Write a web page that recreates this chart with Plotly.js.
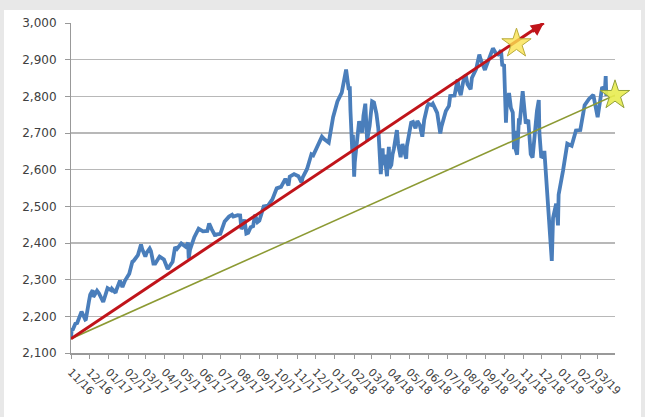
<!DOCTYPE html>
<html>
<head>
<meta charset="utf-8">
<script src="https://cdn.plot.ly/plotly-3.0.1.min.js"></script>
<style>
  html, body { margin: 0; padding: 0; background: #e8e8e8; }
  #frame { position: absolute; left: 4px; top: 10px; width: 637px; height: 407px; background: #ffffff; }
  #chart { position: absolute; left: 0; top: 0; width: 645px; height: 417px; }
</style>
</head>
<body>
<div id="frame"></div>
<div id="chart"></div>
<script>
// Index closes, Nov 2016 - Mar 2019
const dates = [
  '2016-11-08','2016-11-09','2016-11-11','2016-11-15','2016-11-18','2016-11-25','2016-12-01','2016-12-02',
  '2016-12-07','2016-12-09','2016-12-13','2016-12-14','2016-12-16','2016-12-20','2016-12-23','2016-12-30',
  '2017-01-06','2017-01-12','2017-01-13','2017-01-19','2017-01-20','2017-01-26','2017-01-30','2017-02-03',
  '2017-02-10','2017-02-15','2017-02-17','2017-02-24','2017-03-01','2017-03-03','2017-03-08','2017-03-10',
  '2017-03-15','2017-03-17','2017-03-21','2017-03-24','2017-03-31','2017-04-07','2017-04-13','2017-04-18',
  '2017-04-21','2017-04-25','2017-04-28','2017-05-05','2017-05-12','2017-05-16','2017-05-17','2017-05-19',
  '2017-05-26','2017-06-02','2017-06-09','2017-06-16','2017-06-19','2017-06-23','2017-06-29','2017-06-30',
  '2017-07-07','2017-07-14','2017-07-21','2017-07-26','2017-07-28','2017-08-04','2017-08-08','2017-08-10',
  '2017-08-11','2017-08-15','2017-08-17','2017-08-18','2017-08-21','2017-08-25','2017-08-29','2017-09-01',
  '2017-09-05','2017-09-08','2017-09-15','2017-09-22','2017-09-29','2017-10-06','2017-10-13','2017-10-20',
  '2017-10-25','2017-10-27','2017-11-03','2017-11-10','2017-11-15','2017-11-17','2017-11-24','2017-12-01',
  '2017-12-04','2017-12-08','2017-12-15','2017-12-18','2017-12-22','2017-12-29','2018-01-05','2018-01-12',
  '2018-01-19','2018-01-26','2018-01-30','2018-02-01','2018-02-02','2018-02-05','2018-02-06','2018-02-08',
  '2018-02-09','2018-02-14','2018-02-16','2018-02-21','2018-02-23','2018-02-26','2018-03-01','2018-03-02',
  '2018-03-05','2018-03-09','2018-03-12','2018-03-16','2018-03-19','2018-03-22','2018-03-23','2018-03-26',
  '2018-03-27','2018-03-29','2018-04-02','2018-04-03','2018-04-04','2018-04-05','2018-04-06','2018-04-09',
  '2018-04-11','2018-04-13','2018-04-18','2018-04-20','2018-04-24','2018-04-27','2018-05-02','2018-05-03',
  '2018-05-04','2018-05-11','2018-05-14','2018-05-18','2018-05-21','2018-05-25','2018-05-29','2018-06-01',
  '2018-06-06','2018-06-08','2018-06-13','2018-06-15','2018-06-22','2018-06-25','2018-06-27','2018-06-29',
  '2018-07-06','2018-07-11','2018-07-13','2018-07-20','2018-07-25','2018-07-27','2018-07-30','2018-08-03',
  '2018-08-07','2018-08-10','2018-08-15','2018-08-17','2018-08-24','2018-08-29','2018-08-31','2018-09-07',
  '2018-09-14','2018-09-20','2018-09-25','2018-09-28','2018-10-03','2018-10-05','2018-10-08','2018-10-10',
  '2018-10-11','2018-10-12','2018-10-16','2018-10-19','2018-10-22','2018-10-24','2018-10-25','2018-10-26',
  '2018-10-29','2018-11-01','2018-11-02','2018-11-07','2018-11-09','2018-11-12','2018-11-16','2018-11-20',
  '2018-11-23','2018-11-28','2018-11-30','2018-12-03','2018-12-04','2018-12-07','2018-12-10','2018-12-12',
  '2018-12-14','2018-12-17','2018-12-19','2018-12-21','2018-12-24','2018-12-26','2018-12-28','2018-12-31',
  '2019-01-03','2019-01-04','2019-01-11','2019-01-18','2019-01-25','2019-02-01','2019-02-08','2019-02-15',
  '2019-02-22','2019-03-01','2019-03-08','2019-03-15','2019-03-20','2019-03-21','2019-03-22'
];
const closes = [
  2139,2163,2164,2180,2182,2213,2191,2192,
  2241,2259,2271,2253,2258,2270,2263,2239,
  2277,2271,2275,2264,2271,2297,2280,2297,
  2316,2349,2351,2367,2396,2383,2363,2373,
  2385,2378,2344,2344,2363,2355,2329,2342,
  2349,2389,2384,2399,2390,2401,2357,2381,
  2416,2439,2432,2433,2453,2438,2419,2423,
  2425,2459,2472,2477,2472,2476,2475,2438,
  2441,2464,2430,2426,2428,2443,2446,2477,
  2457,2461,2500,2502,2519,2549,2553,2575,
  2557,2581,2588,2582,2565,2579,2602,2642,
  2639,2652,2675,2690,2683,2674,2743,2786,
  2810,2873,2822,2822,2762,2649,2695,2581,
  2620,2698,2732,2701,2747,2780,2678,2691,
  2720,2786,2783,2752,2712,2644,2588,2658,
  2613,2641,2582,2614,2644,2662,2604,2613,
  2642,2656,2708,2670,2634,2670,2636,2630,
  2663,2728,2730,2713,2733,2721,2690,2735,
  2772,2779,2776,2780,2755,2717,2699,2718,
  2760,2774,2801,2802,2846,2819,2803,2840,
  2858,2833,2819,2850,2875,2914,2902,2872,
  2905,2931,2916,2914,2925,2886,2884,2786,
  2728,2767,2809,2768,2756,2656,2706,2659,
  2641,2740,2723,2814,2781,2726,2736,2642,
  2633,2744,2760,2790,2700,2633,2637,2651,
  2600,2546,2507,2417,2351,2468,2486,2507,
  2448,2532,2596,2671,2665,2707,2708,2776,
  2793,2804,2743,2822,2825,2855,2801
];

// Trend lines: steep (red, arrow) and gentle (green)
const trendStart = { date: '2016-11-08', value: 2139 };
const steepEnd   = { date: '2018-12-11', value: 3000 };
const gentleEnd  = { date: '2019-04-05', value: 2803 };

// Star markers
const starDates  = ['2018-10-28', '2019-04-05'];
const starValues = [2944, 2803];

// Axis extent
const xRange = ['2016-11-08', '2019-04-05'];
const yRange = [2100, 3000];

const traces = [
  {
    x: dates, y: closes, type: 'scatter', mode: 'lines',
    line: { color: '#4a7ebb', width: 3.8 },
    hoverinfo: 'skip'
  },
  {
    x: [trendStart.date, gentleEnd.date], y: [trendStart.value, gentleEnd.value],
    type: 'scatter', mode: 'lines',
    line: { color: '#8c9a33', width: 1.6 },
    cliponaxis: false, hoverinfo: 'skip'
  },
  {
    x: [trendStart.date, steepEnd.date], y: [trendStart.value, steepEnd.value],
    type: 'scatter', mode: 'lines',
    line: { color: '#c0141a', width: 3 },
    cliponaxis: false, hoverinfo: 'skip'
  },
  {
    x: [starDates[0]], y: [starValues[0]], type: 'scatter', mode: 'markers',
    marker: { symbol: 'star', size: 22, color: 'rgba(250,226,80,0.8)', line: { color: '#b9ab3a', width: 1 } },
    cliponaxis: false, hoverinfo: 'skip'
  },
  {
    x: [starDates[1]], y: [starValues[1]], type: 'scatter', mode: 'markers',
    marker: { symbol: 'star', size: 22, color: 'rgba(232,236,80,0.9)', line: { color: '#93a13a', width: 1 } },
    cliponaxis: false, hoverinfo: 'skip'
  }
];

const layout = {
  width: 645, height: 417,
  margin: { l: 71, r: 30, t: 23, b: 64 },
  paper_bgcolor: 'rgba(0,0,0,0)',
  plot_bgcolor: 'rgba(0,0,0,0)',
  showlegend: false,
  font: { family: 'DejaVu Sans, sans-serif', size: 12, color: '#444' },
  xaxis: {
    type: 'date', range: xRange,
    tick0: '2016-11-08', dtick: 'M1', tickformat: '%m/%y',
    tickangle: 45,
    tickfont: { family: 'DejaVu Sans, sans-serif', size: 11, color: '#404040' },
    ticklabelstandoff: 3,
    showgrid: false, zeroline: false,
    showline: true, linecolor: '#999', linewidth: 1.5,
    ticks: 'outside', ticklen: 4, tickcolor: '#999',
    fixedrange: true
  },
  yaxis: {
    range: yRange, dtick: 100, tickformat: ',d',
    tickfont: { family: 'DejaVu Sans, sans-serif', size: 12, color: '#404040' },
    showgrid: true, gridcolor: '#b8b8b8', gridwidth: 1.6,
    zeroline: false,
    showline: true, linecolor: '#999', linewidth: 1,
    ticks: 'outside', ticklen: 5, tickcolor: '#999',
    ticklabelstandoff: 6,
    fixedrange: true
  },
  annotations: [
    {
      x: steepEnd.date, y: steepEnd.value, xref: 'x', yref: 'y',
      ax: '2018-11-20', ay: 2974, axref: 'x', ayref: 'y',
      text: '', showarrow: true,
      arrowhead: 2, arrowsize: 0.85, arrowwidth: 3, arrowcolor: '#c0141a',
      standoff: 0
    }
  ]
};

Plotly.newPlot('chart', traces, layout, { staticPlot: true, displayModeBar: false });
</script>
</body>
</html>
